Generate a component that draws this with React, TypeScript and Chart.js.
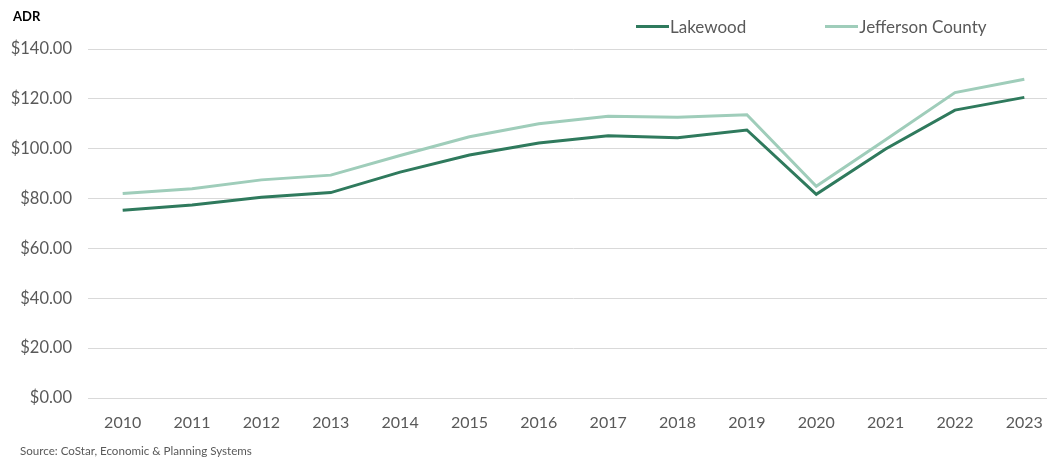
import React, { useEffect, useRef } from "react";
import { Chart, registerables } from "chart.js";

Chart.register(...registerables);

const years = ["2010","2011","2012","2013","2014","2015","2016","2017","2018","2019","2020","2021","2022","2023"];
const lakewood = [75.3, 77.4, 80.5, 82.4, 90.6, 97.5, 102.3, 105.2, 104.4, 107.5, 81.7, 99.9, 115.5, 120.6];
const jefferson = [82.0, 83.9, 87.5, 89.4, 97.3, 104.8, 110.0, 113.0, 112.6, 113.6, 84.9, 103.6, 122.5, 127.9];
const yTicks = [0, 20, 40, 60, 80, 100, 120, 140];

const DARK = "#2F7A5D";
const LIGHT = "#9FCDBA";
const TEXT = "#595959";
const FONT = "Lato, 'Open Sans', sans-serif";

export default function App() {
  const ref = useRef<HTMLCanvasElement>(null);
  useEffect(() => {
    if (!ref.current) return;
    const chart = new Chart(ref.current, {
      type: "line",
      data: {
        labels: years,
        datasets: [
          { label: "Lakewood", data: lakewood, borderColor: DARK, backgroundColor: DARK, borderWidth: 3, pointRadius: 0, tension: 0 },
          { label: "Jefferson County", data: jefferson, borderColor: LIGHT, backgroundColor: LIGHT, borderWidth: 3, pointRadius: 0, tension: 0 },
        ],
      },
      options: {
        animation: false,
        responsive: false,
        layout: { padding: { top: 49, left: 0, right: 1, bottom: 0 } },
        plugins: { legend: { display: false }, tooltip: { enabled: false } },
        scales: {
          x: {
            offset: true,
            grid: { display: false, drawTicks: false },
            border: { display: true, color: "#d9d9d9" },
            ticks: { color: TEXT, font: { family: FONT, size: 16 }, padding: 15, maxRotation: 0 },
            afterFit: (s: any) => { s.height = 61; },
          },
          y: {
            min: 0,
            max: 140,
            afterBuildTicks: (s: any) => { s.ticks = yTicks.map((v) => ({ value: v })); },
            grid: { color: "#d9d9d9", drawTicks: false, lineWidth: 1 },
            border: { display: false },
            ticks: {
              color: TEXT,
              font: { family: FONT, size: 16.5 },
              padding: 16,
              callback: (v: any) => "$" + Number(v).toFixed(2),
            },
            afterFit: (s: any) => { s.width = 88; },
          },
        },
      },
    });
    return () => chart.destroy();
  }, []);

  return (
    <div style={{ position: "fixed", left: 0, top: 0, width: 1047, height: 459, overflow: "hidden", background: "#fff", fontFamily: FONT }}>
      <canvas ref={ref} width={1060} height={459} style={{ position: "absolute", left: 0, top: 0 }} />
      <div style={{ position: "absolute", left: 13, top: 8, fontSize: 13, fontWeight: 700, color: "#000" }}>ADR</div>
      <div style={{ position: "absolute", left: 636, top: 16, display: "flex", alignItems: "center", fontSize: 17, color: TEXT, whiteSpace: "nowrap" }}>
        <span style={{ display: "inline-block", width: 33, height: 3, background: DARK, marginRight: 1 }} />
        <span>Lakewood</span>
        <span style={{ display: "inline-block", width: 33, height: 3, background: LIGHT, marginLeft: 79, marginRight: 1 }} />
        <span>Jefferson County</span>
      </div>
      <div style={{ position: "absolute", left: 20, top: 444, fontSize: 11.6, color: TEXT, whiteSpace: "nowrap" }}>Source: CoStar, Economic &amp; Planning Systems</div>
    </div>
  );
}
